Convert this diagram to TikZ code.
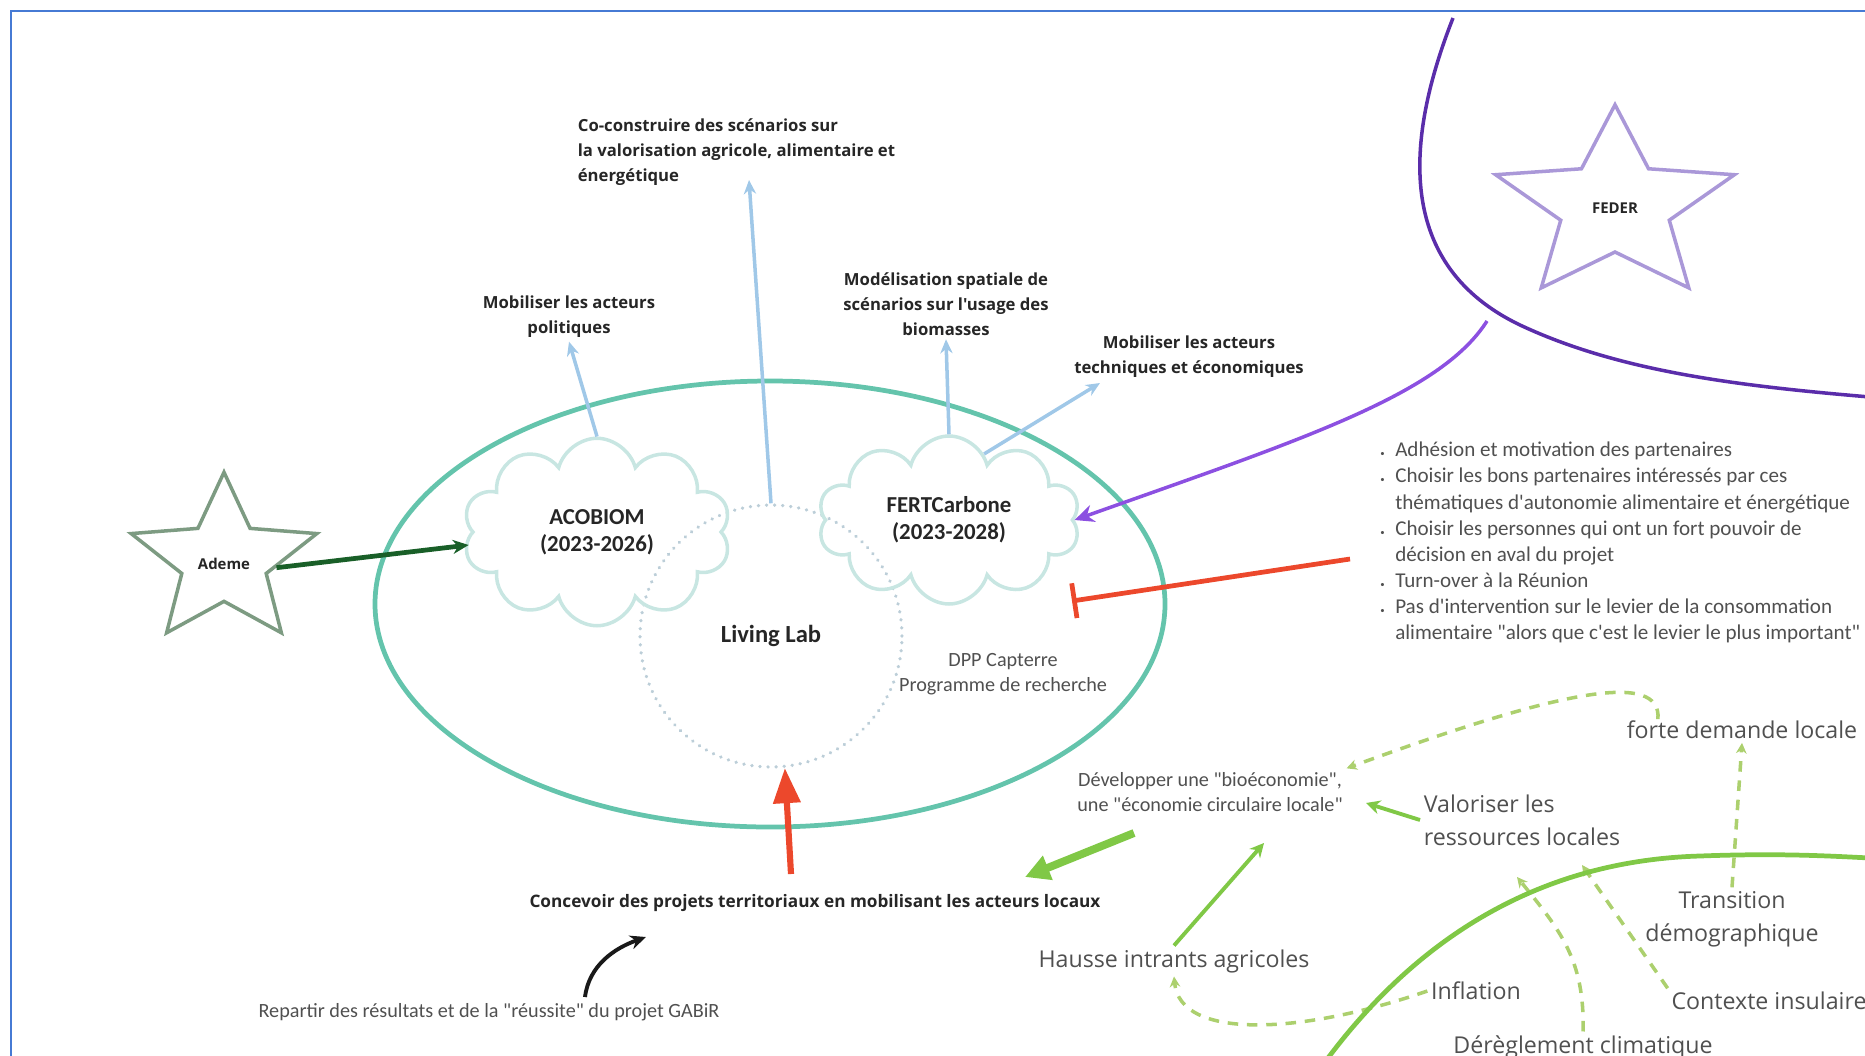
\documentclass[tikz,border=0pt]{standalone}
\usepackage{fontspec}
\setmainfont{Carlito}[Ligatures=TeXOff]
\newfontfamily\opensans{Open Sans}[Ligatures=TeXOff]
\usetikzlibrary{shapes.geometric,shapes.symbols,arrows.meta,positioning,calc}

\definecolor{frameblue}{RGB}{70,122,212}
\definecolor{ellteal}{RGB}{100,196,172}
\definecolor{cloudline}{RGB}{200,230,226}
\definecolor{dotline}{RGB}{188,206,216}
\definecolor{arrblue}{RGB}{160,200,232}
\definecolor{ademegreen}{RGB}{125,155,130}
\definecolor{darkgr}{RGB}{25,95,40}
\definecolor{federlav}{RGB}{170,152,216}
\definecolor{purparr}{RGB}{140,80,225}
\definecolor{purpline}{RGB}{90,45,170}
\definecolor{redarr}{RGB}{236,72,44}
\definecolor{leafgreen}{RGB}{128,200,70}
\definecolor{dashgreen}{RGB}{172,208,110}
\definecolor{txtgray}{RGB}{80,80,80}

\begin{document}
\begin{tikzpicture}[x=0.02cm,y=-0.02cm,
  goal/.style={font=\opensans\fontsize{9.5}{14.2}\selectfont\bfseries,text=black!85,align=center,inner sep=2pt},
  proj/.style={cloud,cloud puffs=10,cloud ignores aspect,draw=cloudline,line width=2pt,
    font=\fontsize{13}{15.6}\selectfont\bfseries,text=black!85,align=center},
  fund/.style={star,star points=5,star point ratio=2.2,line width=2pt,transform shape},
  fundtxt/.style={font=\opensans\fontsize{8.5}{10}\selectfont\bfseries,text=black!85},
  note/.style={font=\fontsize{11.5}{14.5}\selectfont,text=txtgray,align=center,inner sep=2pt},
  factor/.style={font=\opensans\fontsize{13.2}{18.8}\selectfont,text=txtgray,align=center,inner sep=2pt},
  bluearr/.style={arrblue,line width=2pt,-{Stealth[length=8pt,width=7pt]}},
  dgreen/.style={dashgreen,line width=2pt,dash pattern=on 6pt off 5pt,-{Stealth[length=6pt,width=6pt]}}]
\useasboundingbox (0,0) rectangle (1865,1055);
\draw[frameblue,line width=1.7pt] (11,1060) -- (11,11) -- (1870,11);

% living lab and projects
\draw[ellteal,line width=2.7pt] (770,604) ellipse [x radius=395, y radius=223];
\node[circle,draw=dotline,line width=2pt,dash pattern=on 0.1pt off 4.5pt,line cap=round,
  minimum size=5.24cm,font=\fontsize{14}{16}\selectfont\bfseries,text=black!85] (ll) at (771,636) {Living Lab};
\node[proj,minimum width=5.36cm,minimum height=3.75cm] (acobiom) at (597,532) {ACOBIOM\\(2023-2026)};
\node[proj,minimum width=5.24cm,minimum height=3.36cm] (fert) at (949,520) {FERTCarbone\\(2023-2028)};
\node[note] (dpp) at (1003,674) {DPP Capterre\\Programme de recherche};

% funders
\node[fund,draw=ademegreen,minimum size=3.55cm,xscale=1.1] (ademe) at (224,561) {};
\node[fundtxt] (ademetxt) at (224,564) {Ademe};
\node[fund,draw=federlav,minimum size=4.05cm,xscale=1.24] (feder) at (1615,206) {};
\node[fundtxt] (federtxt) at (1615,208) {FEDER};

% goals
\node[goal,align=left,anchor=west] (coco) at (574,152) {Co-construire des scénarios sur\\la valorisation agricole, alimentaire et\\énergétique};
\node[goal] (mobpol) at (569,317) {Mobiliser les acteurs\\politiques};
\node[goal] (model) at (946,304) {Modélisation spatiale de\\scénarios sur l'usage des\\biomasses};
\node[goal] (mobtech) at (1189,357) {Mobiliser les acteurs\\techniques et économiques};
\node[goal,font=\opensans\fontsize{9.8}{14}\selectfont\bfseries] (concevoir) at (815,903) {Concevoir des projets territoriaux en mobilisant les acteurs locaux};
\node[note] (repartir) at (489,1012) {Repartir des résultats et de la "réussite" du projet GABiR};

% obstacles
\node[anchor=north west,inner sep=0pt,font=\fontsize{12}{14.9}\selectfont,text=txtgray] (obst) at (1380,438) {%
  \begin{tabular}{@{}l@{\hspace{6pt}}l@{}}
  {\tiny\textbullet} & Adhésion et motivation des partenaires\\
  {\tiny\textbullet} & Choisir les bons partenaires intéressés par ces\\
   & thématiques d'autonomie alimentaire et énergétique\\
  {\tiny\textbullet} & Choisir les personnes qui ont un fort pouvoir de\\
   & décision en aval du projet\\
  {\tiny\textbullet} & Turn-over à la Réunion\\
  {\tiny\textbullet} & Pas d'intervention sur le levier de la consommation\\
   & alimentaire "alors que c'est le levier le plus important"
  \end{tabular}};

% context factors
\node[note] (dev) at (1210,792) {Développer une "bioéconomie",\\une "économie circulaire locale"};
\node[factor,align=left,anchor=west] (valor) at (1420,820) {Valoriser les\\ressources locales};
\node[factor] (forte) at (1742,730) {forte demande locale};
\node[factor] (trans) at (1732,919) {Transition\\démographique};
\node[factor] (ctx) at (1769,1001) {Contexte insulaire};
\node[factor] (infl) at (1476,991) {Inflation};
\node[factor] (dereg) at (1583,1047) {Dérèglement climatique};
\node[factor] (hausse) at (1174,961) {Hausse intrants agricoles};

% free ends
\coordinate (cocotip) at (749,180);
\coordinate (mobtechtip) at (1100,383);
\coordinate (federtail) at (1487,321);
\coordinate (stoptail) at (1350,559);
\coordinate (stoptip) at (1072,601);
\coordinate (lltail) at (791,874);
\coordinate (gabirtail) at (585,997);
\coordinate (gabirtip) at (646,937);
\coordinate (devtail) at (1134,833);
\coordinate (concevtip) at (1025,877);
\coordinate (devtipA) at (1264,843);
\coordinate (devtipB) at (1366,803);
\coordinate (ressA) at (1517,877);
\coordinate (ressB) at (1582,865);

% connectors
\draw[darkgr,line width=2.7pt,-{Stealth[length=9pt,width=8pt]}] (ademe.-8) -- ($(acobiom.west)+(-2,13)$);
\draw[bluearr] (acobiom.north) -- (mobpol.south);
\draw[bluearr] (ll.north) -- (cocotip);
\draw[bluearr] (fert.north) -- (model.south);
\draw[bluearr] (fert.62) -- (mobtechtip);
\draw[purpline,line width=2pt] (1453,18) .. controls (1405,140) and (1395,265) .. (1520,325)
  .. controls (1620,372) and (1740,386) .. (1870,397);
\draw[purparr,line width=2pt,-{Stealth[length=11pt,width=10pt]}] (federtail) .. controls (1440,395) and (1300,440) .. (fert.east);
\draw[redarr,line width=2.7pt,-{Bar[width=20pt]}] (stoptail) -- (stoptip);
\draw[redarr,line width=3.5pt,-{Triangle[length=20pt,width=15pt]}] (lltail) -- (ll.-84);
\draw[black!90,line width=2.2pt,-{Stealth[length=9pt,width=8pt]}] (gabirtail) .. controls (589,965) and (615,948) .. (gabirtip);
\draw[leafgreen,line width=4.5pt,-{Triangle[length=14pt,width=14pt]}] (devtail) -- (concevtip);
\draw[leafgreen,line width=2.2pt,-{Stealth[length=8pt,width=8pt]}] (valor.west) -- (devtipB);
\draw[leafgreen,line width=2.2pt,-{Stealth[length=8pt,width=8pt]}] (hausse.north) -- (devtipA);
\draw[dgreen] (trans.north) -- (forte.south);
\draw[dgreen] ($(forte.north west)+(35,2)$) .. controls (1662,670) and (1560,690) .. (dev.north east);
\draw[dgreen] (infl.west) .. controls (1300,1035) and (1180,1040) .. (hausse.south);
\draw[dgreen] (dereg.north) .. controls (1585,960) and (1560,930) .. (ressA);
\draw[dgreen] (ctx.north west) -- (ressB);
\draw[leafgreen,line width=2.7pt] (1325,1062) .. controls (1430,920) and (1560,860) .. (1700,856)
  .. controls (1780,853) and (1830,856) .. (1870,858);
\end{tikzpicture}
\end{document}
